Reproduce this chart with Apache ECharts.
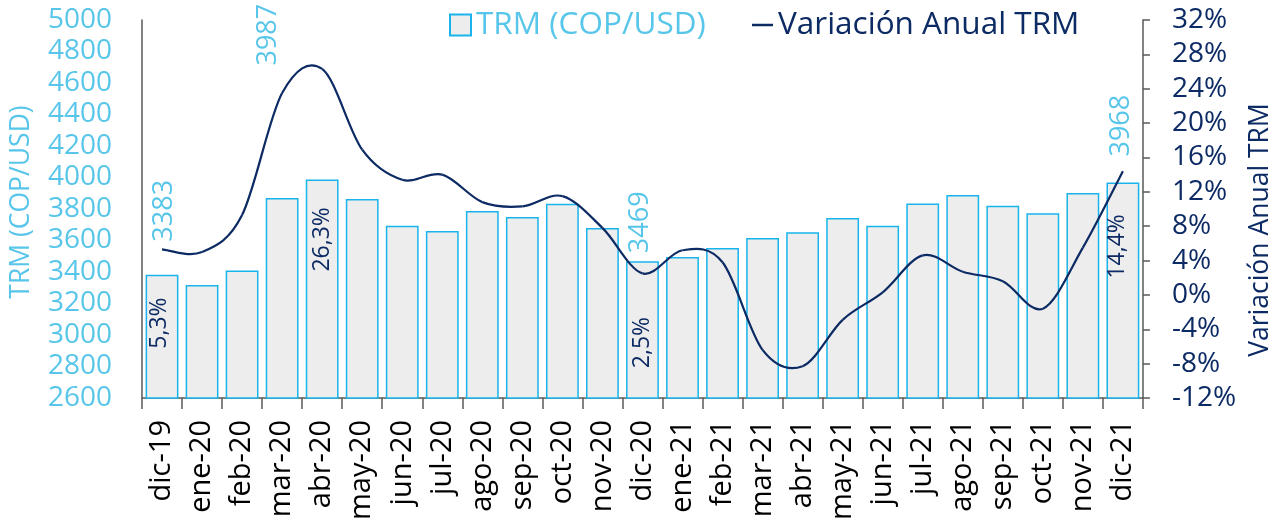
<!DOCTYPE html>
<html>
<head>
<meta charset="utf-8">
<script src="https://cdn.jsdelivr.net/npm/echarts@6/dist/echarts.min.js"></script>
<style>html,body{margin:0;padding:0;background:#fff}#c{width:1282px;height:525px}</style>
</head>
<body>
<div id="c"></div>
<script>
const categories = ['dic-19','ene-20','feb-20','mar-20','abr-20','may-20','jun-20','jul-20','ago-20','sep-20','oct-20','nov-20','dic-20','ene-21','feb-21','mar-21','abr-21','may-21','jun-21','jul-21','ago-21','sep-21','oct-21','nov-21','dic-21'];
const trm = [3383,3318,3409,3870,3987,3863,3693,3660,3788,3750,3834,3680,3469,3495,3553,3616,3653,3743,3693,3835,3889,3820,3773,3902,3968];
const variacion = [5.3,5.0,9.3,23.5,26.3,16.9,13.4,14.0,10.8,10.3,11.5,7.8,2.5,5.2,3.8,-6.4,-8.3,-2.9,0.3,4.6,2.7,1.6,-1.6,5.5,14.4];
const labeledIdx = [0,4,12,24];
const leftTicks = {min:2600,max:5000,interval:200};
const rightTicks = {min:-12,max:32,interval:4};

const LB = '#58C6EA', NAVY = '#0C2A63', BORDER = '#18B4EB', AX = '#595959';
const FONT = 'Open Sans';

// label placement (layout only): [x from bar left, y from bar top]
const trmLabelPos = {0:[19,-33],4:[-37,-114],12:[14.5,-8],24:[14.5,-26]};
const pctLabelPos = {0:[13.6,74],4:[17,92],12:[16.7,107],24:[11,96]};

function fmtPct(v){return v.toFixed(1).replace('.',',')+'%';}

const barData = trm.map((v,i)=>{
  if(labeledIdx.indexOf(i)<0) return v;
  return {value:v,label:{show:true,position:trmLabelPos[i]}};
});
const pctData = trm.map((v,i)=>{
  if(labeledIdx.indexOf(i)<0) return v;
  return {value:v,label:{show:true,position:pctLabelPos[i],formatter:fmtPct(variacion[i])}};
});
const lineData = variacion.map((v,i)=>[i,v]);

function renderSegment(params, api){
  const i = params.dataIndex, n = variacion.length;
  if(i >= n-1) return null;
  const P = k => api.coord([Math.max(0,Math.min(n-1,k)), variacion[Math.max(0,Math.min(n-1,k))]]);
  const p0 = P(i-1), p1 = P(i), p2 = P(i+1), p3 = P(i+2);
  return {
    type:'bezierCurve',
    z2:100,
    shape:{x1:p1[0],y1:p1[1],x2:p2[0],y2:p2[1],
      cpx1:p1[0]+(p2[0]-p0[0])/6, cpy1:p1[1]+(p2[1]-p0[1])/6,
      cpx2:p2[0]-(p3[0]-p1[0])/6, cpy2:p2[1]-(p3[1]-p1[1])/6},
    style:{stroke:NAVY,lineWidth:2.2,fill:null}
  };
}

const chart = echarts.init(document.getElementById('c'),null,{renderer:'canvas'});
chart.setOption({
  animation:false,
  backgroundColor:'#fff',
  textStyle:{fontFamily:FONT},
  legend:[
    {top:9,left:449,padding:0,itemWidth:21,itemHeight:21,
     textStyle:{fontFamily:FONT,fontSize:31.5,color:LB},
     data:[{name:'TRM (COP/USD)',icon:'rect'}]},
    {top:9,left:752,padding:0,itemWidth:21,itemHeight:2.5,itemGap:0,
     textStyle:{fontFamily:FONT,fontSize:31.5,color:NAVY},
     data:[{name:'Variación Anual TRM',icon:'rect'}]}
  ],
  grid:{left:142,right:136,top:20,bottom:127,containLabel:false},
  xAxis:{
    type:'category',data:categories,
    axisLine:{onZero:false,lineStyle:{color:AX,width:1.5}},
    axisTick:{show:true,length:11,lineStyle:{color:AX,width:1.5}},
    axisLabel:{rotate:90,color:'#000',fontFamily:FONT,fontSize:29,margin:22,interval:0}
  },
  yAxis:[
    {type:'value',min:leftTicks.min,max:leftTicks.max,interval:leftTicks.interval,
     name:'TRM (COP/USD)',nameLocation:'middle',nameGap:107,
     nameTextStyle:{color:LB,fontFamily:FONT,fontSize:26.5,padding:[0,0,0,14]},
     axisLine:{show:true,onZero:false,lineStyle:{color:AX,width:1.5}},axisTick:{show:false},
     splitLine:{show:false},
     axisLabel:{color:LB,fontFamily:FONT,fontSize:28,margin:30,formatter:v=>String(v)}},
    {type:'value',min:rightTicks.min,max:rightTicks.max,interval:rightTicks.interval,
     name:'Variación Anual TRM',nameLocation:'middle',nameGap:98,
     nameTextStyle:{color:NAVY,fontFamily:FONT,fontSize:26.5,padding:[0,42,0,0]},
     axisLine:{show:true,onZero:false,lineStyle:{color:AX,width:1.5}},
     axisTick:{show:true,inside:false,length:7,lineStyle:{color:AX,width:1.5}},
     splitLine:{show:false},
     axisLabel:{color:NAVY,fontFamily:FONT,fontSize:28,margin:29,formatter:'{value}%'}}
  ],
  series:[
    {name:'TRM (COP/USD)',type:'bar',z:2,data:barData,barCategoryGap:'18%',barGap:'-100%',
     itemStyle:{color:'#EDEDED',borderColor:BORDER,borderWidth:1.5},
     label:{show:false,rotate:90,align:'left',verticalAlign:'middle',color:LB,fontFamily:FONT,fontSize:27,
       formatter:p=>String(p.value)}},
    {name:'pct',type:'bar',z:3,data:pctData,barCategoryGap:'18%',barGap:'-100%',silent:true,
     itemStyle:{color:'rgba(0,0,0,0)'},
     label:{show:false,rotate:90,align:'left',verticalAlign:'middle',color:NAVY,fontFamily:FONT,fontSize:23}},
    {name:'Variación Anual TRM',type:'custom',z:10,yAxisIndex:1,data:lineData,
     encode:{x:0,y:1},renderItem:renderSegment,itemStyle:{color:NAVY},silent:true}
  ]
});
</script>
</body>
</html>
